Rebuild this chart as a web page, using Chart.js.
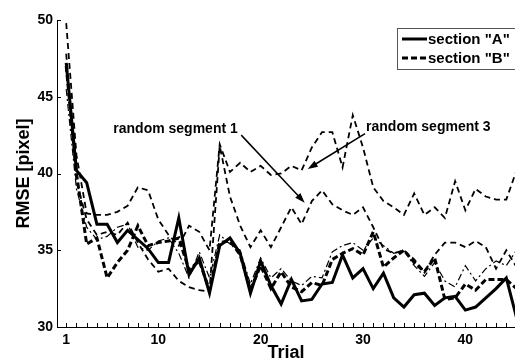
<!DOCTYPE html>
<html>
<head>
<meta charset="utf-8">
<script src="https://cdn.jsdelivr.net/npm/chart.js@4"></script>
<style>
    html, body { margin: 0; padding: 0; background: #fff; }
    #wrap { width: 515px; height: 364px; position: relative; }
</style>
</head>
<body>
<div id="wrap"><canvas id="rmseChart"></canvas></div>
<script>
const trials = [1, 2, 3, 4, 5, 6, 7, 8, 9, 10, 11, 12, 13, 14, 15, 16, 17, 18, 19, 20, 21, 22, 23,
    24, 25, 26, 27, 28, 29, 30, 31, 32, 33, 34, 35, 36, 37, 38, 39, 40, 41, 42, 43, 44, 45];

const sectionA = [47.2, 40.2, 39.4, 36.7, 36.7, 35.5, 36.3, 35.7, 35.1, 34.2, 34.2, 37.1, 33.4, 34.5, 32.2,
    35.3, 35.8, 34.8, 32.2, 34.3, 32.7, 31.5, 33.1, 31.7, 31.8, 32.8, 32.9, 34.7, 33.2, 33.8,
    32.5, 33.5, 31.9, 31.3, 32.1, 32.2, 31.4, 31.9, 32.0, 31.1, 31.3, 31.9, 32.5, 33.2, 30.6];
const sectionB = [47.0, 40.0, 35.4, 35.8, 33.2, 34.2, 35.0, 36.6, 35.3, 35.5, 35.6, 35.8, 33.7, 34.3, 32.4,
    35.5, 35.6, 34.7, 32.4, 34.0, 32.5, 33.6, 32.6, 32.3, 32.9, 32.7, 34.4, 34.8, 35.1, 34.7,
    36.2, 33.9, 34.5, 35.0, 34.2, 33.6, 34.5, 31.8, 31.9, 32.8, 32.4, 33.1, 33.1, 33.1, 32.5];
const randomSeg1 = [47.8, 39.5, 37.0, 36.0, 36.2, 36.0, 36.8, 35.5, 34.4, 33.6, 33.8, 33.0, 32.6, 32.4, 32.3,
    41.8, 38.5, 36.6, 35.2, 36.3, 35.2, 36.5, 37.8, 36.7, 38.2, 38.9, 38.0, 37.6, 37.3, 37.8,
    36.5, 35.1, 34.8, 35.0, 34.4, 33.6, 34.7, 35.5, 35.5, 35.2, 35.6, 35.2, 33.8, 35.0, 33.9];
const randomSeg2 = [45.5, 39.0, 36.5, 35.7, 35.9, 36.5, 36.7, 35.2, 35.0, 35.6, 35.8, 34.8, 33.2, 34.9, 33.2,
    36.0, 35.4, 35.0, 32.8, 34.5, 33.2, 33.8, 33.0, 32.7, 33.3, 33.2, 34.9, 35.3, 35.5, 35.0,
    35.8, 35.3, 34.8, 35.0, 34.0, 33.3, 34.2, 33.0, 32.6, 34.0, 33.0, 33.8, 34.3, 34.0, 35.0];
const randomSeg3 = [49.8, 41.2, 37.4, 37.3, 37.3, 37.5, 37.9, 39.1, 38.9, 37.0, 36.0, 35.3, 36.6, 36.2, 35.0,
    41.9, 40.1, 40.7, 40.1, 40.5, 39.9, 40.0, 40.5, 40.2, 41.7, 42.7, 42.7, 40.4, 43.8, 41.7,
    39.1, 38.2, 37.8, 37.3, 38.7, 37.3, 37.8, 37.1, 39.5, 37.6, 39.0, 38.5, 38.3, 38.3, 40.2];

const xTickLabels = [1, 10, 20, 30, 40];
const yTickLabels = [30, 35, 40, 45, 50];

const FONT = '"Liberation Sans", Arial, sans-serif';

function toPoints(values) {
    return values.map((v, i) => ({ x: trials[i], y: v }));
}

// matlab style extras: inward ticks, boxed legend, arrow notes
const decorPlugin = {
    id: 'decor',
    afterDraw(chart) {
        const { ctx, chartArea, scales: { x, y } } = chart;
        ctx.save();
        ctx.strokeStyle = '#000';
        ctx.lineWidth = 1;
        ctx.beginPath();
        trials.forEach(t => {
            const px = Math.round(x.getPixelForValue(t)) + 0.5;
            if (px > chartArea.right) return;
            ctx.moveTo(px, chartArea.bottom);
            ctx.lineTo(px, chartArea.bottom - 4);
        });
        yTickLabels.forEach(v => {
            const py = Math.round(y.getPixelForValue(v)) + 0.5;
            ctx.moveTo(chartArea.left, py);
            ctx.lineTo(chartArea.left + 4, py);
        });
        ctx.stroke();

        // notes
        ctx.font = 'bold 14px ' + FONT;
        ctx.fillStyle = '#000';
        ctx.textBaseline = 'middle';
        ctx.textAlign = 'left';
        const notes = [
            { text: 'random segment 1', tx: 5.6, ty: 42.9, from: [18.1, 42.5], to: [24.3, 38.1] },
            { text: 'random segment 3', tx: 30.3, ty: 43.0, from: [30.2, 42.6], to: [24.6, 40.3] }
        ];
        notes.forEach(n => {
            ctx.fillText(n.text, x.getPixelForValue(n.tx), y.getPixelForValue(n.ty));
            const x0 = x.getPixelForValue(n.from[0]), y0 = y.getPixelForValue(n.from[1]);
            const x1 = x.getPixelForValue(n.to[0]), y1 = y.getPixelForValue(n.to[1]);
            const a = Math.atan2(y1 - y0, x1 - x0);
            ctx.lineWidth = 1.5;
            ctx.beginPath();
            ctx.moveTo(x0, y0);
            ctx.lineTo(x1 - 6 * Math.cos(a), y1 - 6 * Math.sin(a));
            ctx.stroke();
            ctx.beginPath();
            ctx.moveTo(x1, y1);
            ctx.lineTo(x1 - 10 * Math.cos(a) + 3.5 * Math.sin(a), y1 - 10 * Math.sin(a) - 3.5 * Math.cos(a));
            ctx.lineTo(x1 - 10 * Math.cos(a) - 3.5 * Math.sin(a), y1 - 10 * Math.sin(a) + 3.5 * Math.cos(a));
            ctx.closePath();
            ctx.fill();
        });

        // legend box
        const bx = chartArea.right - 118, by = chartArea.top + 8;
        ctx.fillStyle = '#fff';
        ctx.fillRect(bx, by, 130, 41);
        ctx.strokeStyle = '#555';
        ctx.lineWidth = 1;
        ctx.strokeRect(bx + 0.5, by + 0.5, 130, 41);
        const items = chart.data.datasets.slice(0, 2);
        items.forEach((ds, i) => {
            const ly = by + 11 + i * 19;
            ctx.strokeStyle = '#000';
            ctx.lineWidth = 3;
            ctx.setLineDash(ds.borderDash || []);
            ctx.beginPath();
            ctx.moveTo(bx + 5, ly);
            ctx.lineTo(bx + 30, ly);
            ctx.stroke();
            ctx.setLineDash([]);
            ctx.fillStyle = '#000';
            ctx.font = 'bold 15px ' + FONT;
            ctx.fillText(ds.label, bx + 31, ly + 1);
        });
        ctx.restore();
    }
};

const ctx = document.getElementById('rmseChart');

new Chart(ctx, {
    type: 'line',
    data: {
        datasets: [
            {
                label: 'section "A"',
                data: toPoints(sectionA),
                borderColor: '#000',
                borderWidth: 3
            },
            {
                label: 'section "B"',
                data: toPoints(sectionB),
                borderColor: '#000',
                borderWidth: 3,
                borderDash: [6, 3]
            },
            {
                label: 'random segment 1',
                data: toPoints(randomSeg1),
                borderColor: '#000',
                borderWidth: 1.8,
                borderDash: [6, 4]
            },
            {
                label: 'random segment 2',
                data: toPoints(randomSeg2),
                borderColor: '#000',
                borderWidth: 1.2,
                borderDash: [7, 3, 2, 3]
            },
            {
                label: 'random segment 3',
                data: toPoints(randomSeg3),
                borderColor: '#000',
                borderWidth: 1.8,
                borderDash: [6, 4]
            }
        ]
    },
    options: {
        responsive: true,
        maintainAspectRatio: false,
        animation: false,
        layout: { padding: { top: 20, right: 0, bottom: 0, left: 0 } },
        elements: {
            point: { radius: 0 },
            line: { tension: 0, fill: false }
        },
        scales: {
            x: {
                type: 'linear',
                min: 0.1,
                max: 44.85,
                afterBuildTicks: s => { s.ticks = xTickLabels.map(v => ({ value: v })); },
                afterFit: s => { s.height = 37; },
                ticks: {
                    color: '#000',
                    font: { family: FONT, size: 14, weight: 'bold' },
                    padding: 5,
                    maxRotation: 0,
                    autoSkip: false
                },
                grid: { display: false, drawTicks: false },
                border: { color: '#000', width: 1 },
                title: {
                    display: true,
                    text: 'Trial',
                    color: '#000',
                    font: { family: FONT, size: 18, weight: 'bold' },
                    padding: { top: 0, bottom: 0 }
                }
            },
            y: {
                min: 30,
                max: 50,
                afterBuildTicks: s => { s.ticks = yTickLabels.map(v => ({ value: v })); },
                afterFit: s => { s.width = 57; },
                ticks: {
                    color: '#000',
                    font: { family: FONT, size: 14, weight: 'bold' },
                    padding: 4
                },
                grid: { display: false, drawTicks: false },
                border: { color: '#000', width: 1 },
                title: {
                    display: true,
                    text: 'RMSE [pixel]',
                    color: '#000',
                    font: { family: FONT, size: 18, weight: 'bold' },
                    padding: { top: 13, bottom: 0 }
                }
            }
        },
        plugins: {
            legend: { display: false },
            tooltip: { enabled: false }
        }
    },
    plugins: [decorPlugin]
});
</script>
</body>
</html>
